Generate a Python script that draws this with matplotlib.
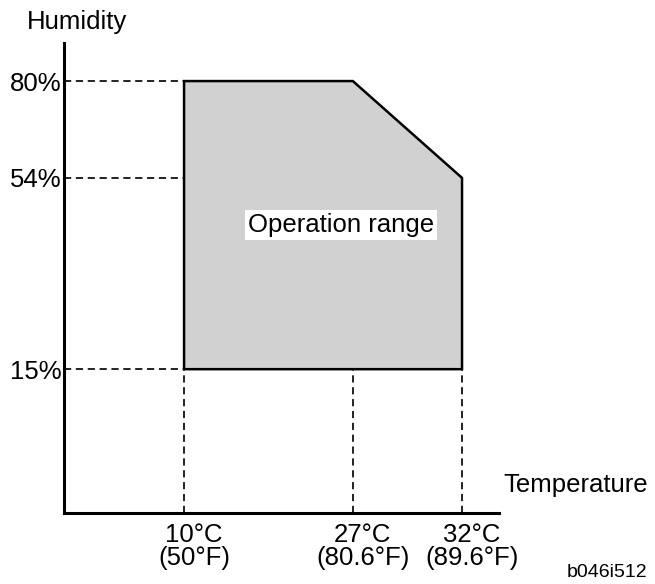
import numpy as np
import matplotlib
matplotlib.use("Agg")
import matplotlib.pyplot as plt
import matplotlib.transforms as mtransforms
from matplotlib.patches import Polygon

plt.rcParams['font.family'] = ['Liberation Sans', 'DejaVu Sans']

# ── Data ──────────────────────────────────────────────────────────────────────
temps_c   = [10, 27, 32]            # °C
temps_f   = [50, 80.6, 89.6]        # °F
humidity  = [15, 54, 80]            # %RH
# operation envelope: (temperature, humidity) corners
range_t   = [10, 10, 27, 32, 32]
range_h   = [15, 80, 80, 54, 15]

# ── Schematic (non-linear) axis layout ────────────────────────────────────────
X_LIM   = (0, 35)
X_ANCH  = [0, 10, 27, 32, 35]
X_FRAC  = [0, 0.276, 0.664, 0.915, 1.0]
Y_LIM   = (0, 100)
Y_ANCH  = [0, 15, 54, 80, 100]
Y_FRAC  = [0, 0.306, 0.713, 0.919, 1.0]

FS   = 18.5
DASH = (0, (3.7, 2.4))


def x_fwd(v):
    return np.interp(v, X_ANCH, X_FRAC)


def x_inv(v):
    return np.interp(v, X_FRAC, X_ANCH)


def y_fwd(v):
    return np.interp(v, Y_ANCH, Y_FRAC)


def y_inv(v):
    return np.interp(v, Y_FRAC, Y_ANCH)


W, H = 655, 584
fig = plt.figure(figsize=(W / 100, H / 100), dpi=100)
fig.patch.set_facecolor('white')

# axes box in pixels: x 64..499, y 43..513
ax = fig.add_axes([64 / W, 1 - 513 / H, 435 / W, 470 / H])
ax.set_xscale('function', functions=(x_fwd, x_inv))
ax.set_yscale('function', functions=(y_fwd, y_inv))
ax.set_xlim(*X_LIM)
ax.set_ylim(*Y_LIM)

for side in ('top', 'right'):
    ax.spines[side].set_visible(False)
for side in ('left', 'bottom'):
    ax.spines[side].set_linewidth(2.2)
    ax.spines[side].set_color('black')

# operation range
poly = Polygon(list(zip(range_t, range_h)), closed=True,
               facecolor='#d1d1d1', edgecolor='black', linewidth=1.8,
               joinstyle='miter', zorder=3)
ax.add_patch(poly)

# guide lines
ax.hlines(humidity, X_LIM[0], temps_c[0], colors='#222222',
          linewidth=1.4, linestyles=DASH, zorder=2)
ax.vlines(temps_c, Y_LIM[0], humidity[0], colors='#222222',
          linewidth=1.4, linestyles=DASH, zorder=2)

ax.text(0.637, 0.613, 'Operation range', transform=ax.transAxes,
        ha='center', va='center', fontsize=FS, zorder=4,
        bbox=dict(boxstyle='square,pad=0.12', facecolor='white',
                  edgecolor='none'))

# ticks
ax.set_yticks(humidity, [f'{h}%' for h in humidity])
ax.set_xticks(temps_c, [f'{c}°C\n({f:g}°F)' for c, f in zip(temps_c, temps_f)])
ax.minorticks_off()
ax.tick_params(axis='y', length=0, pad=1.5, labelsize=FS)
ax.tick_params(axis='x', length=0, pad=7, labelsize=FS)
# labels in the original sit a little right of their guide lines
shift = mtransforms.ScaledTranslation(10 / 100, 0, fig.dpi_scale_trans)
for lbl in ax.get_xticklabels():
    lbl.set_linespacing(0.95)
    lbl.set_transform(lbl.get_transform() + shift)

# axis titles
fig.text(27 / W, 1 - 29 / H, 'Humidity', fontsize=FS,
         ha='left', va='baseline')
fig.text(503 / W, 1 - 492 / H, 'Temperature', fontsize=FS,
         ha='left', va='baseline')
fig.text(567 / W, 1 - 577 / H, 'b046i512', fontsize=14,
         ha='left', va='baseline')

fig.savefig('out.png', dpi=100, facecolor='white')
